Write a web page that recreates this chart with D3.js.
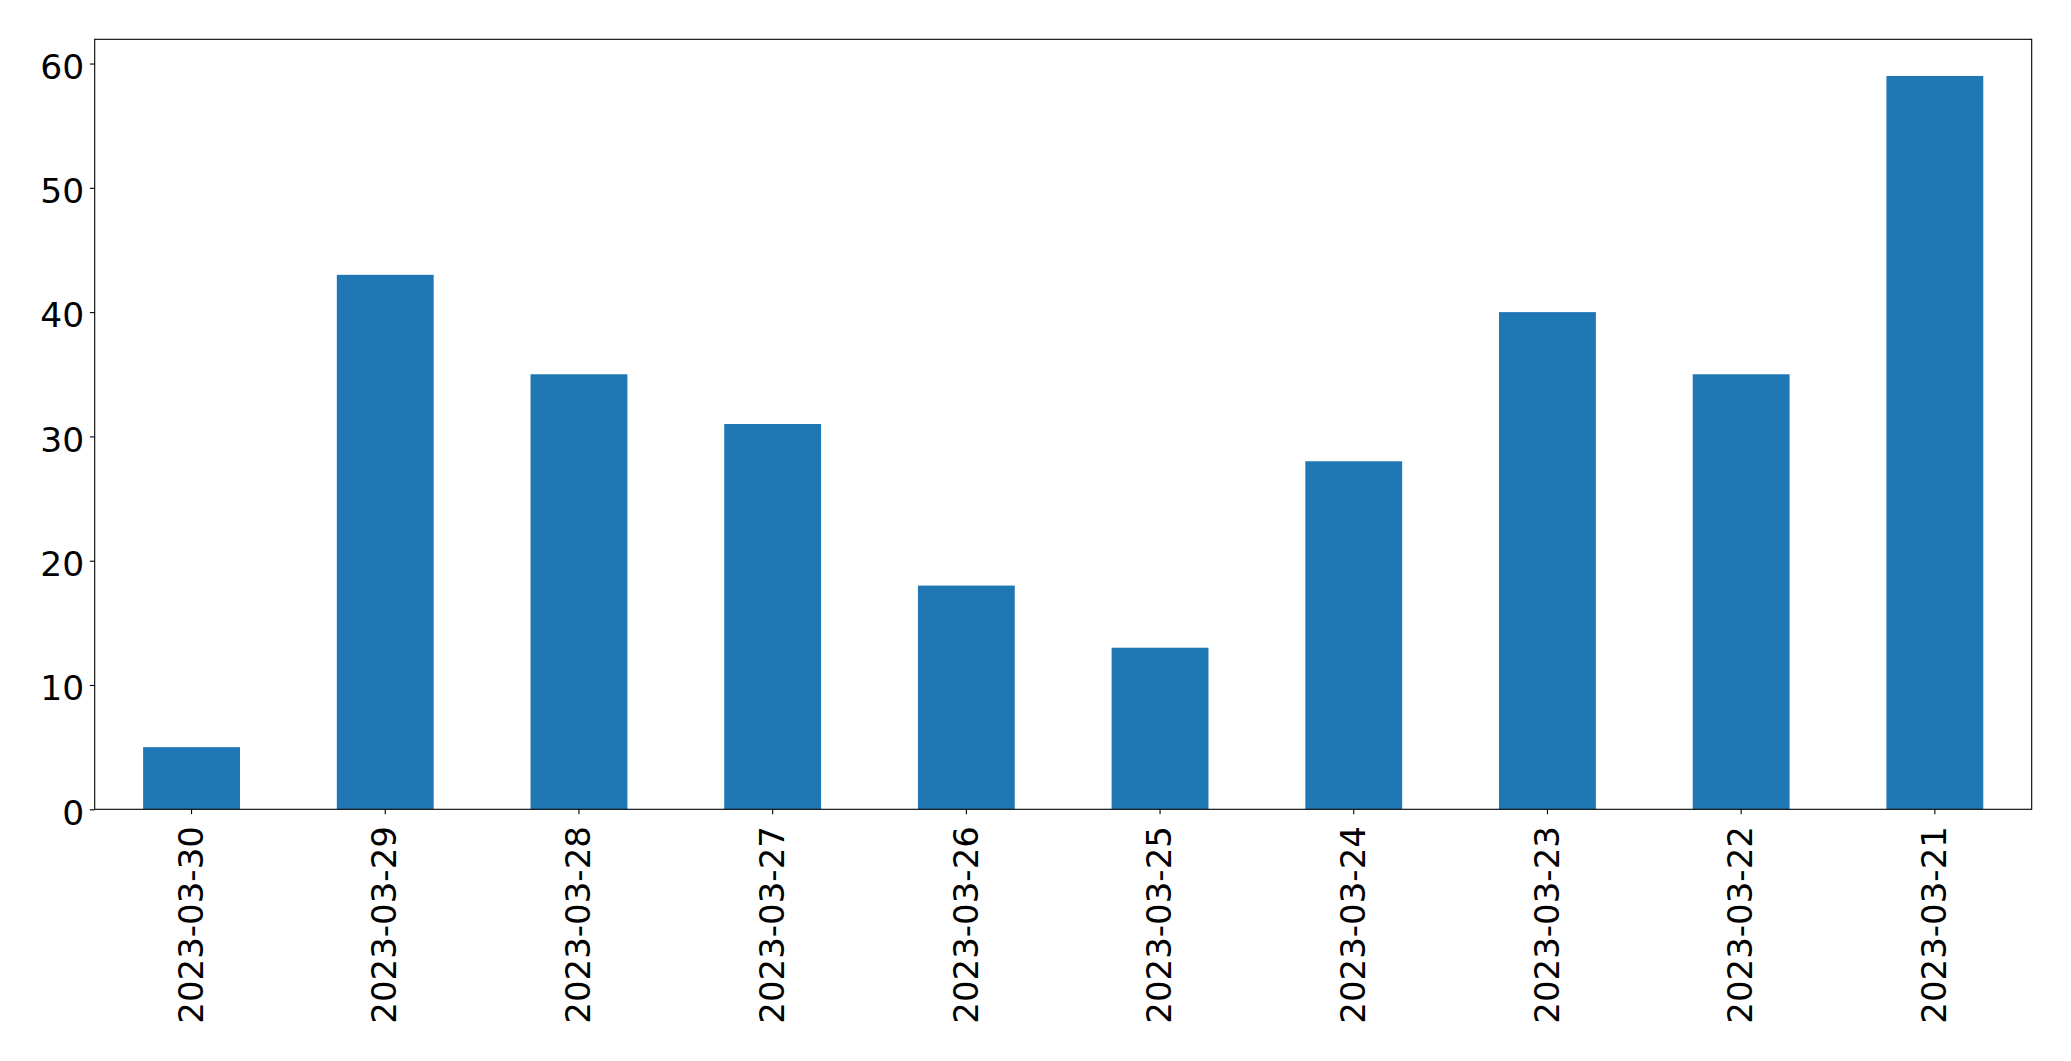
<!DOCTYPE html>
<html>
<head>
<meta charset="utf-8">
<script src="https://cdn.jsdelivr.net/npm/d3@7"></script>
<style>
    body { margin: 0; background: #ffffff; }
    svg { display: block; }
    text { font-family: "DejaVu Sans", sans-serif; }
</style>
</head>
<body>
<svg id="bar-chart"></svg>
<script>
// Dates (in the order they were plotted) and counts per day
const dates = ["2023-03-30", "2023-03-29", "2023-03-28", "2023-03-27", "2023-03-26",
    "2023-03-25", "2023-03-24", "2023-03-23", "2023-03-22", "2023-03-21"];
const counts = [5, 43, 35, 31, 18, 13, 28, 40, 35, 59];
const yTicks = [0, 10, 20, 30, 40, 50, 60];

// Set up SVG dimensions
const totalWidth = 2071;
const totalHeight = 1061;
const margin = { top: 39.3, right: 39.3, bottom: 251.7, left: 94.7 };
const width = totalWidth - margin.left - margin.right;
const height = totalHeight - margin.top - margin.bottom;

const data = dates.map((d, i) => ({ date: d, count: counts[i] }));

const svg = d3.select("#bar-chart")
    .attr("width", totalWidth)
    .attr("height", totalHeight)
    .append("g")
    .attr("transform", "translate(" + margin.left + "," + margin.top + ")");

// Scales - bars take half a slot, like pandas does
const xScale = d3.scaleBand()
    .domain(dates)
    .range([0, width])
    .paddingInner(0.5)
    .paddingOuter(0.25);

const yScale = d3.scaleLinear()
    .domain([0, d3.max(counts) * 1.05])
    .range([height, 0]);

// Bars
svg.selectAll("rect.bar")
    .data(data)
    .enter()
    .append("rect")
    .attr("class", "bar")
    .attr("x", d => xScale(d.date))
    .attr("y", d => yScale(d.count))
    .attr("width", xScale.bandwidth())
    .attr("height", d => height - yScale(d.count))
    .attr("fill", "#1f77b4");

// Frame around the plot
svg.append("rect")
    .attr("x", 0)
    .attr("y", 0)
    .attr("width", width)
    .attr("height", height)
    .attr("fill", "none")
    .attr("stroke", "#000")
    .attr("stroke-width", 1.1);

// Y axis
const yAxis = svg.append("g")
    .call(d3.axisLeft(yScale).tickValues(yTicks).tickSize(4.9).tickPadding(5.6));
yAxis.select(".domain").remove();
yAxis.selectAll("line").attr("stroke", "#000").attr("stroke-width", 1.1);
yAxis.selectAll("text")
    .attr("dy", "0.43em")
    .attr("fill", "#000")
    .style("font-size", "34.5px");

// X axis with rotated date labels
const xAxis = svg.append("g")
    .attr("transform", "translate(0," + height + ")")
    .call(d3.axisBottom(xScale).tickSize(4.9));
xAxis.select(".domain").remove();
xAxis.selectAll("line").attr("stroke", "#000").attr("stroke-width", 1.1);
xAxis.selectAll("text")
    .attr("transform", "rotate(-90)")
    .attr("x", -16.8)
    .attr("y", 0)
    .attr("dy", "0.33em")
    .attr("fill", "#000")
    .style("text-anchor", "end")
    .style("font-size", "34px");
</script>
</body>
</html>
